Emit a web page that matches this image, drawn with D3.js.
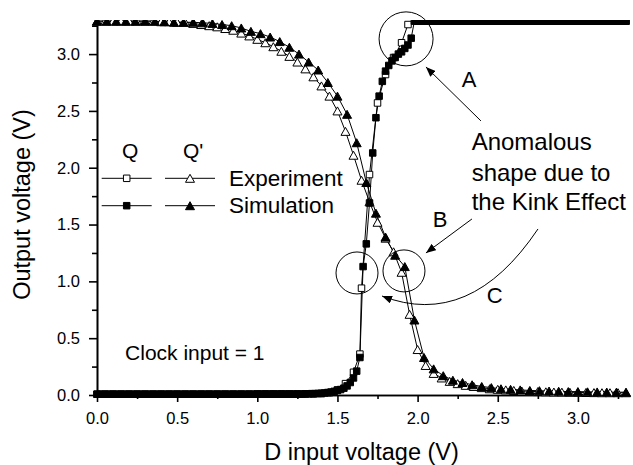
<!DOCTYPE html>
<html lang="en">
<head>
<meta charset="UTF-8">
<title>Flip-flop transfer curves</title>
<script src="https://d3js.org/d3.v7.min.js"></script>
<style>
  body { margin: 0; background: #fff; }
  svg { display: block; font-family: "Liberation Sans", Arial, sans-serif; }
</style>
</head>
<body>
<svg id="chart" width="633" height="465"></svg>
<script>
// simulated Q, swept 0 -> 3.3 V in 0.02 V steps
const simQStep = 0.02;
const simQ = [
  0.007,0.007,0.007,0.007,0.007,0.007,0.007,0.007,0.007,0.007,
  0.007,0.007,0.007,0.007,0.007,0.007,0.007,0.007,0.007,0.007,
  0.007,0.007,0.007,0.007,0.007,0.007,0.007,0.007,0.007,0.007,
  0.007,0.007,0.007,0.007,0.007,0.007,0.007,0.007,0.007,0.007,
  0.007,0.007,0.007,0.007,0.007,0.007,0.007,0.007,0.007,0.007,
  0.008,0.008,0.008,0.008,0.008,0.008,0.008,0.008,0.008,0.008,
  0.008,0.008,0.008,0.008,0.008,0.01,0.01,0.012,0.012,0.014,
  0.015,0.018,0.022,0.026,0.032,0.04,0.048,0.06,0.08,0.11,
  0.15,0.21,0.33,1.13,1.33,1.69,2.13,2.44,2.63,2.76,
  2.85,2.90,2.94,2.97,3.00,3.02,3.05,3.08,3.14,3.29,
  3.29,3.29,3.29,3.29,3.29,3.29,3.29,3.29,3.29,3.29,
  3.29,3.29,3.29,3.29,3.29,3.29,3.29,3.29,3.29,3.29,
  3.29,3.29,3.29,3.29,3.29,3.29,3.29,3.29,3.29,3.29,
  3.29,3.29,3.29,3.29,3.29,3.29,3.29,3.29,3.29,3.29,
  3.29,3.29,3.29,3.29,3.29,3.29,3.29,3.29,3.29,3.29,
  3.29,3.29,3.29,3.29,3.29,3.29,3.29,3.29,3.29,3.29,
  3.29,3.29,3.29,3.29,3.29,3.29
];

// simulated Q', 0.06 V steps
const simQbStep = 0.06;
const simQb = [
  3.29,3.29,3.29,3.29,3.29,3.29,3.29,3.285,3.28,3.28,
  3.28,3.275,3.27,3.26,3.25,3.23,3.20,3.18,3.15,3.11,
  3.06,3.00,2.93,2.86,2.75,2.63,2.47,2.22,1.87,1.60,
  1.39,1.23,1.13,0.66,0.33,0.23,0.17,0.13,0.11,0.09,
  0.075,0.065,0.055,0.05,0.045,0.04,0.038,0.035,0.033,0.03,
  0.03,0.028,0.027,0.026,0.025,0.025
];

// measured Q
const expQV = [
  0,0.05,0.1,0.15,0.2,0.25,0.3,0.35,0.4,0.45,
  0.5,0.55,0.6,0.65,0.7,0.75,0.8,0.85,0.9,0.95,
  1.0,1.05,1.1,1.15,1.2,1.25,1.3,1.35,1.4,1.45,
  1.5,1.55,1.6,1.64,1.65,1.7,1.75,1.8,1.85,1.9,1.94,
  2.0,2.05,2.1,2.15,2.2,2.25,2.3,2.35,2.4,2.45,
  2.5,2.55,2.6,2.65,2.7,2.75,2.8,2.85,2.9,2.95,
  3.0,3.05,3.1,3.15,3.2,3.25,3.3
];
const expQ = [
  0.007,0.007,0.007,0.007,0.007,0.007,0.007,0.007,0.007,0.007,
  0.007,0.007,0.007,0.007,0.007,0.007,0.007,0.007,0.007,0.007,
  0.008,0.008,0.008,0.008,0.008,0.008,0.01,0.01,0.012,0.02,
  0.045,0.10,0.20,0.36,0.94,1.94,2.57,2.82,2.97,3.10,3.26,
  3.29,3.29,3.29,3.29,3.29,3.29,3.29,3.29,3.29,3.29,
  3.29,3.29,3.29,3.29,3.29,3.29,3.29,3.29,3.29,3.29,
  3.29,3.29,3.29,3.29,3.29,3.29,3.29
];

// measured Q', 0.05 V steps
const expQbStep = 0.05;
const expQb = [
  3.29,3.29,3.29,3.29,3.29,3.29,3.29,3.29,3.285,3.285,
  3.28,3.28,3.27,3.26,3.25,3.24,3.225,3.21,3.185,3.16,
  3.13,3.10,3.065,3.025,2.98,2.93,2.87,2.80,2.72,2.63,
  2.50,2.32,2.11,1.89,1.70,1.52,1.38,1.26,1.08,0.71,
  0.40,0.26,0.19,0.15,0.12,0.10,0.085,0.075,0.065,0.055,
  0.05,0.045,0.04,0.035,0.032,0.03,0.028,0.026,0.025,0.024,
  0.023,0.022,0.021,0.02,0.02,0.02,0.02
];

const xTicks = [0, 0.5, 1.0, 1.5, 2.0, 2.5, 3.0];
const yTicks = [0, 0.5, 1.0, 1.5, 2.0, 2.5, 3.0];
const minorTicks = [0.25, 0.75, 1.25, 1.75, 2.25, 2.75, 3.25];

const margin = {top: 20, right: 7, bottom: 70, left: 97},
      width = 633 - margin.left - margin.right,
      height = 465 - margin.top - margin.bottom;

const svg = d3.select("#chart");
const chart = svg.append("g").attr("transform", `translate(${margin.left},${margin.top})`);

const x = d3.scaleLinear().domain([0, 3.3]).range([0, width]);
const y = d3.scaleLinear().domain([0, 3.3]).range([height, 0]);

const grid = (vals, step) => vals.map((v, i) => [i * step, v]);
const series = [
  {name: "Q exp", pts: expQV.map((v, i) => [v, expQ[i]]), shape: "square", fill: "#fff"},
  {name: "Q' exp", pts: grid(expQb, expQbStep), shape: "triangle", fill: "#fff"},
  {name: "Q sim", pts: grid(simQ, simQStep), shape: "square", fill: "#000"},
  {name: "Q' sim", pts: grid(simQb, simQbStep), shape: "triangle", fill: "#000"}
];

const sq = 6.5, triW = 9, triH = 8;
const markerPath = shape => shape === "square"
  ? `M${-sq/2},${-sq/2}h${sq}v${sq}h${-sq}Z`
  : `M0,${-triH/2}L${triW/2},${triH/2}L${-triW/2},${triH/2}Z`;

const defs = svg.append("defs");
// data are clipped at the top of the frame like the original plot
defs.append("clipPath").attr("id", "plotClip")
  .append("rect").attr("x", -10).attr("y", 0).attr("width", width + 20).attr("height", height + 10);

// axes
const fontTick = "16.5px";
chart.append("g")
  .attr("transform", `translate(0,${height})`)
  .call(d3.axisBottom(x).tickValues(minorTicks).tickSize(4).tickFormat("").tickSizeOuter(0));
chart.append("g")
  .call(d3.axisLeft(y).tickValues(minorTicks).tickSize(5).tickFormat("").tickSizeOuter(0));
chart.append("g")
  .attr("transform", `translate(0,${height})`)
  .call(d3.axisBottom(x).tickValues(xTicks).tickSize(7).tickPadding(10.5)
    .tickFormat(d3.format(".1f")).tickSizeOuter(0));
chart.append("g")
  .call(d3.axisLeft(y).tickValues(yTicks).tickSize(8).tickPadding(9)
    .tickFormat(d3.format(".1f")).tickSizeOuter(0));
chart.selectAll(".domain, .tick line").attr("stroke", "#000").attr("stroke-width", 1.6);
chart.selectAll(".tick text").attr("fill", "#000").style("font-size", fontTick)
  .style("font-family", "'Liberation Sans', Arial, sans-serif");

// data
const plot = chart.append("g").attr("clip-path", "url(#plotClip)");
const line = d3.line().x(d => x(d[0])).y(d => y(d[1]));
series.forEach(s => {
  plot.append("path").datum(s.pts)
    .attr("d", line).attr("fill", "none").attr("stroke", "#000").attr("stroke-width", 1);
});
series.forEach(s => {
  plot.append("g").selectAll("path").data(s.pts).join("path")
    .attr("transform", d => `translate(${x(d[0])},${y(d[1])})`)
    .attr("d", markerPath(s.shape))
    .attr("fill", s.fill).attr("stroke", "#000").attr("stroke-width", 1);
});

// axis titles
svg.append("text")
  .attr("x", margin.left + width / 2).attr("y", 460)
  .attr("text-anchor", "middle").style("font-size", "23.5px")
  .text("D input voltage (V)");
svg.append("text")
  .attr("transform", `translate(30,${margin.top + height / 2 - 3}) rotate(-90)`)
  .attr("text-anchor", "middle").style("font-size", "23.5px")
  .text("Output voltage (V)");

// legend
const legend = svg.append("g");
legend.append("text").attr("x", 122).attr("y", 158).style("font-size", "21px").text("Q");
legend.append("text").attr("x", 183).attr("y", 158).style("font-size", "21px").text("Q'");
[{label: "Experiment", y: 178.3, fill: "#fff"}, {label: "Simulation", y: 205.7, fill: "#000"}]
  .forEach(r => {
    [[101.7, 151.7, "square"], [165, 215, "triangle"]].forEach(([a, b, shape]) => {
      legend.append("line").attr("x1", a).attr("x2", b).attr("y1", r.y).attr("y2", r.y)
        .attr("stroke", "#000").attr("stroke-width", 1);
      legend.append("path").attr("transform", `translate(${(a + b) / 2},${r.y})`)
        .attr("d", markerPath(shape)).attr("fill", r.fill).attr("stroke", "#000");
    });
    legend.append("text").attr("x", 229).attr("y", r.y + 7.5).style("font-size", "22.5px").text(r.label);
  });

// annotations
defs.append("marker").attr("id", "head")
  .attr("viewBox", "0 0 10 8").attr("refX", 10).attr("refY", 4)
  .attr("markerWidth", 10).attr("markerHeight", 8)
  .attr("markerUnits", "userSpaceOnUse").attr("orient", "auto")
  .append("path").attr("d", "M0,0L10,4L0,8Z").attr("fill", "#000");

const circles = [[1.928, 3.134, 27], [1.622, 1.074, 21], [1.915, 1.092, 21]];
chart.selectAll("circle.note").data(circles).join("circle")
  .attr("class", "note")
  .attr("cx", d => x(d[0])).attr("cy", d => y(d[1])).attr("r", d => d[2])
  .attr("fill", "none").attr("stroke", "#000").attr("stroke-width", 1);

const arrows = [[2.395, 2.412, 2.052, 2.887], [2.339, 1.549, 2.052, 1.25]];
arrows.forEach(a => {
  chart.append("line")
    .attr("x1", x(a[0])).attr("y1", y(a[1])).attr("x2", x(a[2])).attr("y2", y(a[3]))
    .attr("stroke", "#000").attr("stroke-width", 1).attr("marker-end", "url(#head)");
});
const curveC = d3.path();
curveC.moveTo(x(2.751), y(1.461));
curveC.quadraticCurveTo(x(2.327), y(0.572), x(1.778), y(0.871));
chart.append("path").attr("d", curveC.toString())
  .attr("fill", "none").attr("stroke", "#000").attr("stroke-width", 1)
  .attr("marker-end", "url(#head)");

const notes = [
  {t: "A", v: 2.321, o: 2.711, size: "22px", anchor: "middle"},
  {t: "Anomalous", v: 2.337, o: 2.157, size: "24px", anchor: "start"},
  {t: "shape due to", v: 2.337, o: 1.884, size: "24px", anchor: "start"},
  {t: "the Kink Effect", v: 2.337, o: 1.629, size: "24px", anchor: "start"},
  {t: "B", v: 2.140, o: 1.479, size: "22px", anchor: "middle"},
  {t: "C", v: 2.481, o: 0.810, size: "22px", anchor: "middle"},
  {t: "Clock input = 1", v: 0.175, o: 0.308, size: "21px", anchor: "start"}
];
chart.selectAll("text.note").data(notes).join("text")
  .attr("class", "note")
  .attr("x", d => x(d.v)).attr("y", d => y(d.o))
  .attr("text-anchor", d => d.anchor).style("font-size", d => d.size)
  .text(d => d.t);
</script>
</body>
</html>
